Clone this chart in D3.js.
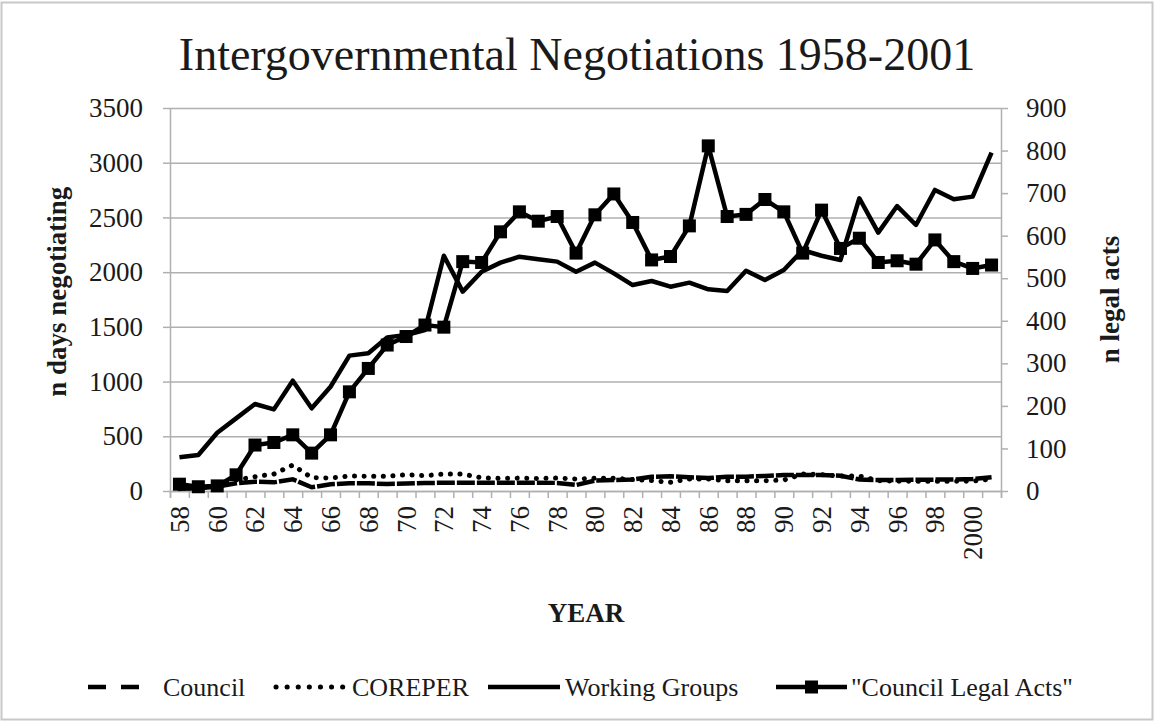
<!DOCTYPE html>
<html>
<head>
<meta charset="utf-8">
<script src="https://cdn.jsdelivr.net/npm/d3@7"></script>
<style>
body { margin: 0; background: #fff; }
text { font-family: "Liberation Serif", serif; fill: #1a1a1a; }
</style>
</head>
<body>
<div id="chart"></div>
<script>
// years 1958..2001, labels every second year
var years = d3.range(1958, 2002);
var tickYears = d3.range(1958, 2001, 2);
var leftTicks = [0, 500, 1000, 1500, 2000, 2500, 3000, 3500];
var rightTicks = [0, 100, 200, 300, 400, 500, 600, 700, 800, 900];

// n days negotiating (left axis)
var council = [20, 25, 40, 70, 85, 79, 107, 34, 61, 70, 70, 64, 68, 73, 75, 76, 76, 76, 76, 76, 74, 55,
    95, 100, 105, 130, 135, 125, 118, 130, 131, 138, 146, 146, 146, 140, 105, 100, 100, 102, 104, 105, 110, 125];
var coreper = [20, 30, 50, 100, 131, 155, 237, 122, 119, 137, 134, 134, 149, 140, 155, 155, 120, 115, 118, 115, 118, 110,
    116, 116, 105, 95, 80, 110, 110, 94, 94, 94, 100, 155, 150, 137, 137, 95, 90, 88, 88, 88, 90, 110];
var workingGroups = [308, 329, 533, 664, 795, 746, 1008, 756, 953, 1237, 1258, 1404, 1425, 1471, 2150, 1822, 2004, 2087,
    2141, 2117, 2096, 2004, 2087, 1989, 1882, 1919, 1867, 1904, 1843, 1828, 2013, 1928, 2020, 2200, 2150, 2111,
    2675, 2361, 2604, 2431, 2751, 2666, 2690, 3092];
// n legal acts (right axis)
var legalActs = [16, 10, 12, 38, 108, 114, 132, 89, 132, 233, 288, 343, 363, 390, 385, 539, 537, 609, 656, 634, 645, 559,
    649, 698, 631, 543, 551, 623, 811, 645, 650, 685, 656, 559, 660, 570, 594, 537, 541, 533, 590, 539, 523, 531];

var W = 1154, H = 721;
var margin = {top: 108, right: 153, bottom: 230, left: 170};
var width = W - margin.left - margin.right;
var height = H - margin.top - margin.bottom;
var gridColor = "#b0b0b0";

var svg = d3.select("#chart").append("svg")
    .attr("width", W)
    .attr("height", H);

svg.append("rect")
    .attr("x", 1.5).attr("y", 2.5)
    .attr("width", W - 3).attr("height", H - 4)
    .attr("fill", "#fff")
    .attr("stroke", "#c8c8c8")
    .attr("stroke-width", 2);

var g = svg.append("g")
    .attr("transform", "translate(" + margin.left + "," + margin.top + ")");

var x = d3.scaleBand().domain(years).range([0, width]);
var xEdge = d3.scaleLinear().domain([0, years.length]).range([0, width]);
var yL = d3.scaleLinear().domain([0, 3500]).range([height, 0]);
var yR = d3.scaleLinear().domain([0, 900]).range([height, 0]);
var cx = d => x(d) + x.bandwidth() / 2;

// gridlines
g.append("g")
    .call(d3.axisLeft(yL).tickValues(leftTicks).tickSize(-width).tickFormat(""))
    .call(a => a.select(".domain").remove())
    .selectAll("line").attr("stroke", gridColor).attr("stroke-width", 1.5);

// left axis
g.append("g")
    .call(d3.axisLeft(yL).tickValues(leftTicks).tickSize(7).tickPadding(20).tickSizeOuter(0).tickFormat(d3.format("d")))
    .call(a => a.selectAll("line, path").attr("stroke", gridColor).attr("stroke-width", 1.5))
    .call(a => a.selectAll("text").style("font-size", "27px").attr("fill", "#1a1a1a"));

// right axis
g.append("g")
    .attr("transform", "translate(" + width + ",0)")
    .call(d3.axisRight(yR).tickValues(rightTicks).tickSize(7).tickPadding(18).tickSizeOuter(0).tickFormat(d3.format("d")))
    .call(a => a.selectAll("line, path").attr("stroke", gridColor).attr("stroke-width", 1.5))
    .call(a => a.selectAll("text").style("font-size", "27px").attr("fill", "#1a1a1a"));

// bottom tick marks at category edges
g.append("g")
    .attr("transform", "translate(0," + height + ")")
    .call(d3.axisBottom(xEdge).tickValues(d3.range(years.length + 1)).tickSize(7).tickFormat(""))
    .call(a => a.selectAll("line, path").attr("stroke", gridColor).attr("stroke-width", 1.5));

// bottom labels
g.append("g")
    .attr("transform", "translate(0," + height + ")")
    .call(d3.axisBottom(x).tickValues(tickYears).tickSize(0).tickPadding(0)
        .tickFormat(d => d === 2000 ? "2000" : String(d).slice(2)))
    .call(a => a.select(".domain").remove())
    .selectAll("text")
    .style("font-size", "27px")
    .attr("fill", "#1a1a1a")
    .attr("text-anchor", "end")
    .attr("transform", "translate(0,15) rotate(-90)")
    .attr("x", 0).attr("y", 0).attr("dy", "0.35em");

// series
var lineL = d3.line().x((d, i) => cx(years[i])).y(d => yL(d));
var lineR = d3.line().x((d, i) => cx(years[i])).y(d => yR(d));

g.append("path").datum(council)
    .attr("d", lineL).attr("fill", "none")
    .attr("stroke", "#000").attr("stroke-width", 4.5)
    .attr("stroke-dasharray", "18,2");

g.append("path").datum(coreper)
    .attr("d", lineL).attr("fill", "none")
    .attr("stroke", "#000").attr("stroke-width", 5)
    .attr("stroke-linecap", "round")
    .attr("stroke-dasharray", "0.1,9.5");

g.append("path").datum(workingGroups)
    .attr("d", lineL).attr("fill", "none")
    .attr("stroke", "#000").attr("stroke-width", 4.5)
    .attr("stroke-linejoin", "round");

g.append("path").datum(legalActs)
    .attr("d", lineR).attr("fill", "none")
    .attr("stroke", "#000").attr("stroke-width", 4.5);

var ms = 13;
g.selectAll(".sq").data(legalActs).enter().append("rect")
    .attr("class", "sq")
    .attr("x", (d, i) => cx(years[i]) - ms / 2)
    .attr("y", d => yR(d) - ms / 2)
    .attr("width", ms).attr("height", ms)
    .attr("fill", "#000");

// titles
svg.append("text")
    .attr("x", 577).attr("y", 70)
    .attr("text-anchor", "middle")
    .style("font-size", "46px")
    .text("Intergovernmental Negotiations 1958-2001");

svg.append("text")
    .attr("transform", "translate(57," + (margin.top + height * 0.48) + ") rotate(-90)")
    .attr("text-anchor", "middle").attr("dy", "0.35em")
    .style("font-size", "27px").style("font-weight", "bold")
    .text("n days negotiating");

svg.append("text")
    .attr("transform", "translate(1110," + (margin.top + height * 0.5) + ") rotate(-90)")
    .attr("text-anchor", "middle").attr("dy", "0.35em")
    .style("font-size", "27px").style("font-weight", "bold")
    .text("n legal acts");

svg.append("text")
    .attr("x", 586).attr("y", 622)
    .attr("text-anchor", "middle")
    .style("font-size", "27px").style("font-weight", "bold")
    .text("YEAR");

// legend
var legend = [
    {name: "Council", x0: 88, x1: 144, tx: 163, dash: "18,15"},
    {name: "COREPER", x0: 276, x1: 343, tx: 352, dash: "0.1,11", cap: "round"},
    {name: "Working Groups", x0: 488, x1: 560, tx: 565},
    {name: "\"Council Legal Acts\"", x0: 776, x1: 847, tx: 851, marker: true}
];
var ly = 687;
var lg = svg.append("g").selectAll("g").data(legend).enter().append("g");
lg.append("line")
    .attr("x1", d => d.x0).attr("x2", d => d.x1)
    .attr("y1", ly).attr("y2", ly)
    .attr("stroke", "#000").attr("stroke-width", d => d.cap ? 5 : 4.5)
    .attr("stroke-linecap", d => d.cap || "butt")
    .attr("stroke-dasharray", d => d.dash || null);
lg.filter(d => d.marker).append("rect")
    .attr("x", d => (d.x0 + d.x1) / 2 - ms / 2)
    .attr("y", ly - ms / 2)
    .attr("width", ms).attr("height", ms)
    .attr("fill", "#000");
lg.append("text")
    .attr("x", d => d.tx).attr("y", ly + 9)
    .style("font-size", "26px")
    .text(d => d.name);
</script>
</body>
</html>
